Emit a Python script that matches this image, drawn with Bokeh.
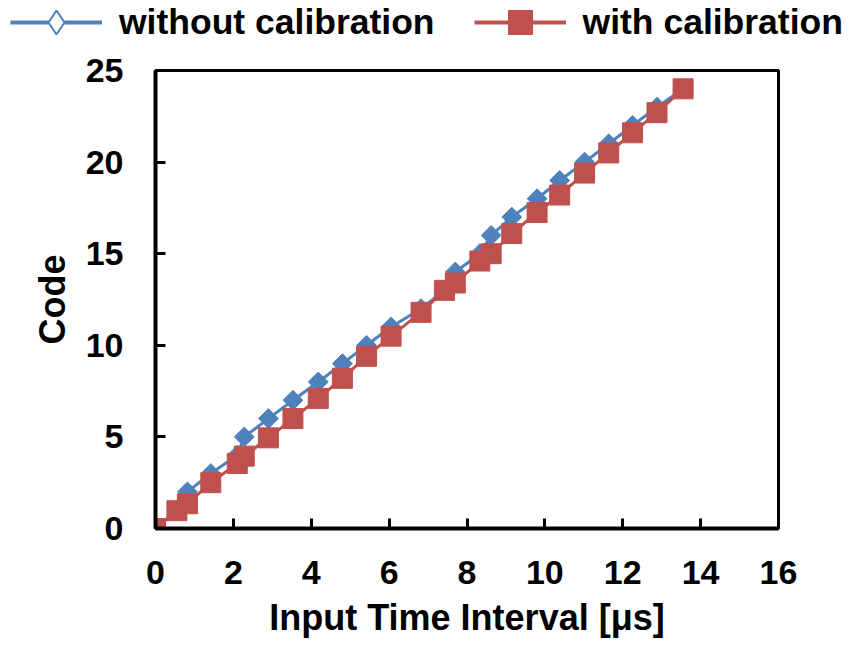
import math
from bokeh.plotting import figure
from bokeh.models import Legend, LegendItem, ColumnDataSource, FixedTicker, Range1d
from bokeh.embed import file_html
from bokeh.resources import INLINE

# Data
interval_us = [0.0, 0.55, 0.82, 1.42, 2.10, 2.28, 2.90, 3.53, 4.18, 4.80, 5.42, 6.05, 6.82,
               7.42, 7.70, 8.33, 8.62, 9.15, 9.80, 10.38, 11.02, 11.64, 12.25, 12.88, 13.55]
code_without = [0, 1, 2, 3, 4, 5, 6, 7, 8, 9, 10, 11, 12, 13, 14, 15, 16, 17, 18, 19, 20,
                21, 22, 23, 24]
code_with = [0.0, 0.97, 1.35, 2.5, 3.55, 3.95, 4.95, 6.0, 7.1, 8.2, 9.4, 10.5, 11.8, 13.0,
             13.4, 14.6, 15.0, 16.1, 17.25, 18.2, 19.4, 20.5, 21.6, 22.7, 24.0]
x_ticks = [0, 2, 4, 6, 8, 10, 12, 14, 16]
y_ticks = [0, 5, 10, 15, 20, 25]
series_names = ["without calibration", "with calibration"]

BLUE = "#4F81BD"
RED = "#C0504D"
FONT = "Liberation Sans"
W = 852

src = ColumnDataSource(dict(x=interval_us, a=code_without, b=code_with))

# ---- legend strip (separate root so its frame spans the full width) ----
lg = figure(width=W, height=50, output_backend="svg", toolbar_location=None,
            x_range=Range1d(-100, -99), y_range=Range1d(-100, -99),
            x_axis_location=None, y_axis_location=None, min_border=0)
lg.grid.visible = False
lg.outline_line_color = None
lb_line = lg.line("x", "a", source=src, line_color=BLUE, line_width=4)
lb_mark = lg.scatter("x", "a", source=src, marker="diamond", size=24, fill_color="white",
                     line_color=BLUE, line_width=2)
lr_line = lg.line("x", "b", source=src, line_color=RED, line_width=4)
lr_mark = lg.scatter("x", "b", source=src, marker="square", size=20, fill_color=RED, line_color=RED)
legend = Legend(items=[LegendItem(label=series_names[0], renderers=[lb_line, lb_mark]),
                       LegendItem(label=series_names[1], renderers=[lr_line, lr_mark])],
                orientation="horizontal", location=(10, -2),
                label_text_font=FONT, label_text_font_size="35.5px", label_text_font_style="bold",
                label_text_color="black", label_height=40,
                glyph_width=92, glyph_height=60, label_standoff=17, spacing=39,
                padding=0, margin=0, border_line_alpha=0, background_fill_alpha=0)
lg.add_layout(legend, "center")

# ---- main plot ----
p = figure(width=W, height=590, output_backend="svg", toolbar_location=None,
           x_range=Range1d(0, 16), y_range=Range1d(0, 25),
           min_border_left=155, min_border_right=W - 778, min_border_top=20, min_border_bottom=103)
p.grid.visible = False
p.outline_line_color = "black"
p.outline_line_width = 3
p.outline_line_alpha = 1

p.line("x", "a", source=src, line_color=BLUE, line_width=3)
p.scatter("x", "a", source=src, marker="square", angle=math.pi / 4, size=14,
          fill_color=BLUE, line_color=BLUE)
p.line("x", "b", source=src, line_color=RED, line_width=3)
p.scatter("x", "b", source=src, marker="square", size=20, fill_color=RED, line_color=RED)

for ax in (p.xaxis, p.yaxis):
    ax.axis_line_width = 4
    ax.axis_line_color = "black"
    ax.major_tick_line_width = 3
    ax.major_tick_in = 10
    ax.major_tick_out = 0
    ax.minor_tick_line_color = None
    ax.major_label_text_font = FONT
    ax.major_label_text_font_size = "34px"
    ax.major_label_text_font_style = "bold"
    ax.major_label_text_color = "black"
    ax.axis_label_text_font = FONT
    ax.axis_label_text_font_size = "36px"
    ax.axis_label_text_font_style = "bold"
    ax.axis_label_text_color = "black"

p.xaxis.ticker = FixedTicker(ticks=x_ticks)
p.yaxis.ticker = FixedTicker(ticks=y_ticks)
p.xaxis.major_label_standoff = 32
p.yaxis.major_label_standoff = 32
p.xaxis.axis_label = "Input Time Interval [μs]"
p.yaxis.axis_label = "Code"
p.xaxis.axis_label_standoff = 10
p.yaxis.axis_label_standoff = 10

open("out.html", "w").write(file_html([lg, p], INLINE))
